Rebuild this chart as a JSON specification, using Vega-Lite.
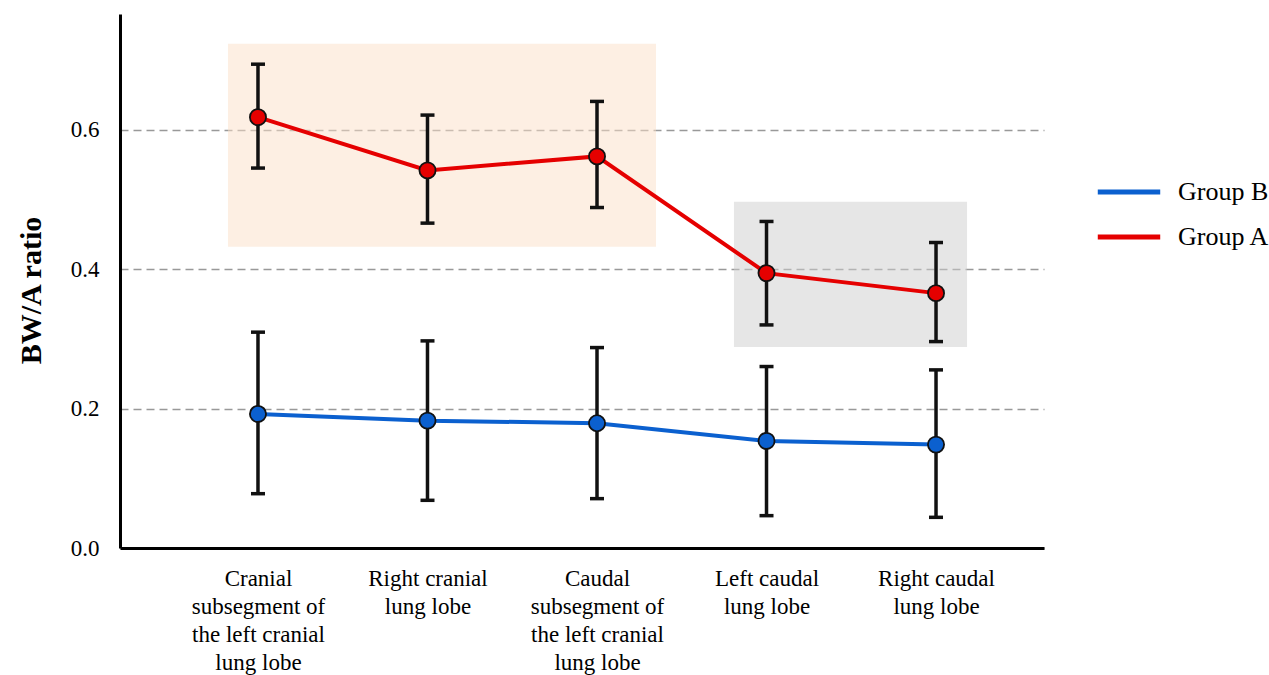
{
  "$schema": "https://vega.github.io/schema/vega-lite/v6.json",
  "width": 924,
  "height": 534,
  "autosize": {"type": "none"},
  "padding": {"left": 120, "top": 14, "right": 225, "bottom": 127},
  "background": "white",
  "config": {
    "view": {"stroke": null},
    "font": "Liberation Serif"
  },
  "datasets": {
    "pts": [
      {"lobe": 0, "group": "Group A", "mean": 0.618, "low": 0.545, "high": 0.694},
      {"lobe": 1, "group": "Group A", "mean": 0.5416, "low": 0.466, "high": 0.621},
      {"lobe": 2, "group": "Group A", "mean": 0.5617, "low": 0.4884, "high": 0.6406},
      {"lobe": 3, "group": "Group A", "mean": 0.3943, "low": 0.320, "high": 0.4684},
      {"lobe": 4, "group": "Group A", "mean": 0.3656, "low": 0.2961, "high": 0.4382},
      {"lobe": 0, "group": "Group B", "mean": 0.1923, "low": 0.0779, "high": 0.3096},
      {"lobe": 1, "group": "Group B", "mean": 0.1827, "low": 0.0684, "high": 0.2971},
      {"lobe": 2, "group": "Group B", "mean": 0.179, "low": 0.0708, "high": 0.2875},
      {"lobe": 3, "group": "Group B", "mean": 0.1536, "low": 0.0464, "high": 0.2603},
      {"lobe": 4, "group": "Group B", "mean": 0.1483, "low": 0.044, "high": 0.2555}
    ],
    "boxes": [
      {"x1": -0.177, "x2": 2.348, "y1": 0.432, "y2": 0.7234, "fill": "#fbdfc7"},
      {"x1": 2.808, "x2": 4.183, "y1": 0.2885, "y2": 0.4966, "fill": "#cdcdcd"}
    ]
  },
  "layer": [
    {
      "data": {"name": "boxes"},
      "mark": {"type": "rect", "opacity": 0.5},
      "encoding": {
        "x": {"field": "x1", "type": "quantitative", "scale": {"domain": [-0.814, 4.637], "nice": false, "zero": false},
          "axis": {
            "values": [0, 1, 2, 3, 4],
            "title": null,
            "grid": false,
            "ticks": false,
            "domainColor": "black",
            "domainWidth": 3,
            "labelFont": "Liberation Serif",
            "labelFontSize": 23,
            "labelColor": "black",
            "labelLineHeight": 28.3,
            "labelPadding": 19,
            "labelBaseline": "top",
            "labelFlush": false,
            "labelOverlap": false,
            "labelExpr": "[['Cranial','subsegment of','the left cranial','lung lobe'],['Right cranial','lung lobe'],['Caudal','subsegment of','the left cranial','lung lobe'],['Left caudal','lung lobe'],['Right caudal','lung lobe']][datum.value]"
          }
        },
        "x2": {"field": "x2"},
        "y": {"field": "y1", "type": "quantitative", "title": "BW/A ratio", "scale": {"domain": [0, 0.766], "nice": false, "zero": true},
          "axis": {
            "values": [0, 0.2, 0.4, 0.6],
            "format": ".1f",
            "title": "BW/A ratio",
            "titleFont": "Liberation Serif",
            "titleFontSize": 30,
            "titleFontWeight": "bold",
            "titleColor": "black",
            "titlePadding": 24,
            "titleY": 276,
            "grid": true,
            "gridColor": "#999999",
            "gridDash": [8, 5],
            "gridWidth": 1.5,
            "ticks": false,
            "domainColor": "black",
            "domainWidth": 3,
            "labelFont": "Liberation Serif",
            "labelFontSize": 23,
            "labelColor": "black",
            "labelPadding": 21
          }
        },
        "y2": {"field": "y2"},
        "fill": {"field": "fill", "type": "nominal", "scale": null, "legend": null}
      }
    },
    {
      "data": {"name": "pts"},
      "mark": {"type": "line", "strokeWidth": 4},
      "encoding": {
        "x": {"field": "lobe", "type": "quantitative"},
        "y": {"field": "mean", "type": "quantitative", "title": "BW/A ratio"},
        "color": {"field": "group", "type": "nominal",
          "scale": {"domain": ["Group B", "Group A"], "range": ["#0b60cf", "#e50000"]},
          "legend": {
            "title": null,
            "orient": "none",
            "legendX": 975,
            "legendY": 165,
            "symbolType": "stroke",
            "symbolSize": 3900,
            "symbolStrokeWidth": 5,
            "symbolOpacity": 1,
            "clipHeight": 26,
            "rowPadding": 19,
            "labelFont": "Liberation Serif",
            "labelFontSize": 26,
            "labelColor": "black",
            "labelOffset": 15
          }
        }
      }
    },
    {
      "data": {"name": "pts"},
      "mark": {"type": "errorbar", "color": "#111111", "ticks": {"size": 14, "thickness": 3.5, "color": "#111111", "opacity": 1}, "rule": {"strokeWidth": 3.5, "opacity": 1}},
      "encoding": {
        "x": {"field": "lobe", "type": "quantitative"},
        "y": {"field": "low", "type": "quantitative", "title": "BW/A ratio"},
        "y2": {"field": "high"}
      }
    },
    {
      "data": {"name": "pts"},
      "mark": {"type": "point", "filled": true, "shape": "circle", "size": 260, "stroke": "#111111", "strokeWidth": 1.8, "opacity": 1},
      "encoding": {
        "x": {"field": "lobe", "type": "quantitative"},
        "y": {"field": "mean", "type": "quantitative", "title": "BW/A ratio"},
        "color": {"field": "group", "type": "nominal"}
      }
    }
  ]
}
